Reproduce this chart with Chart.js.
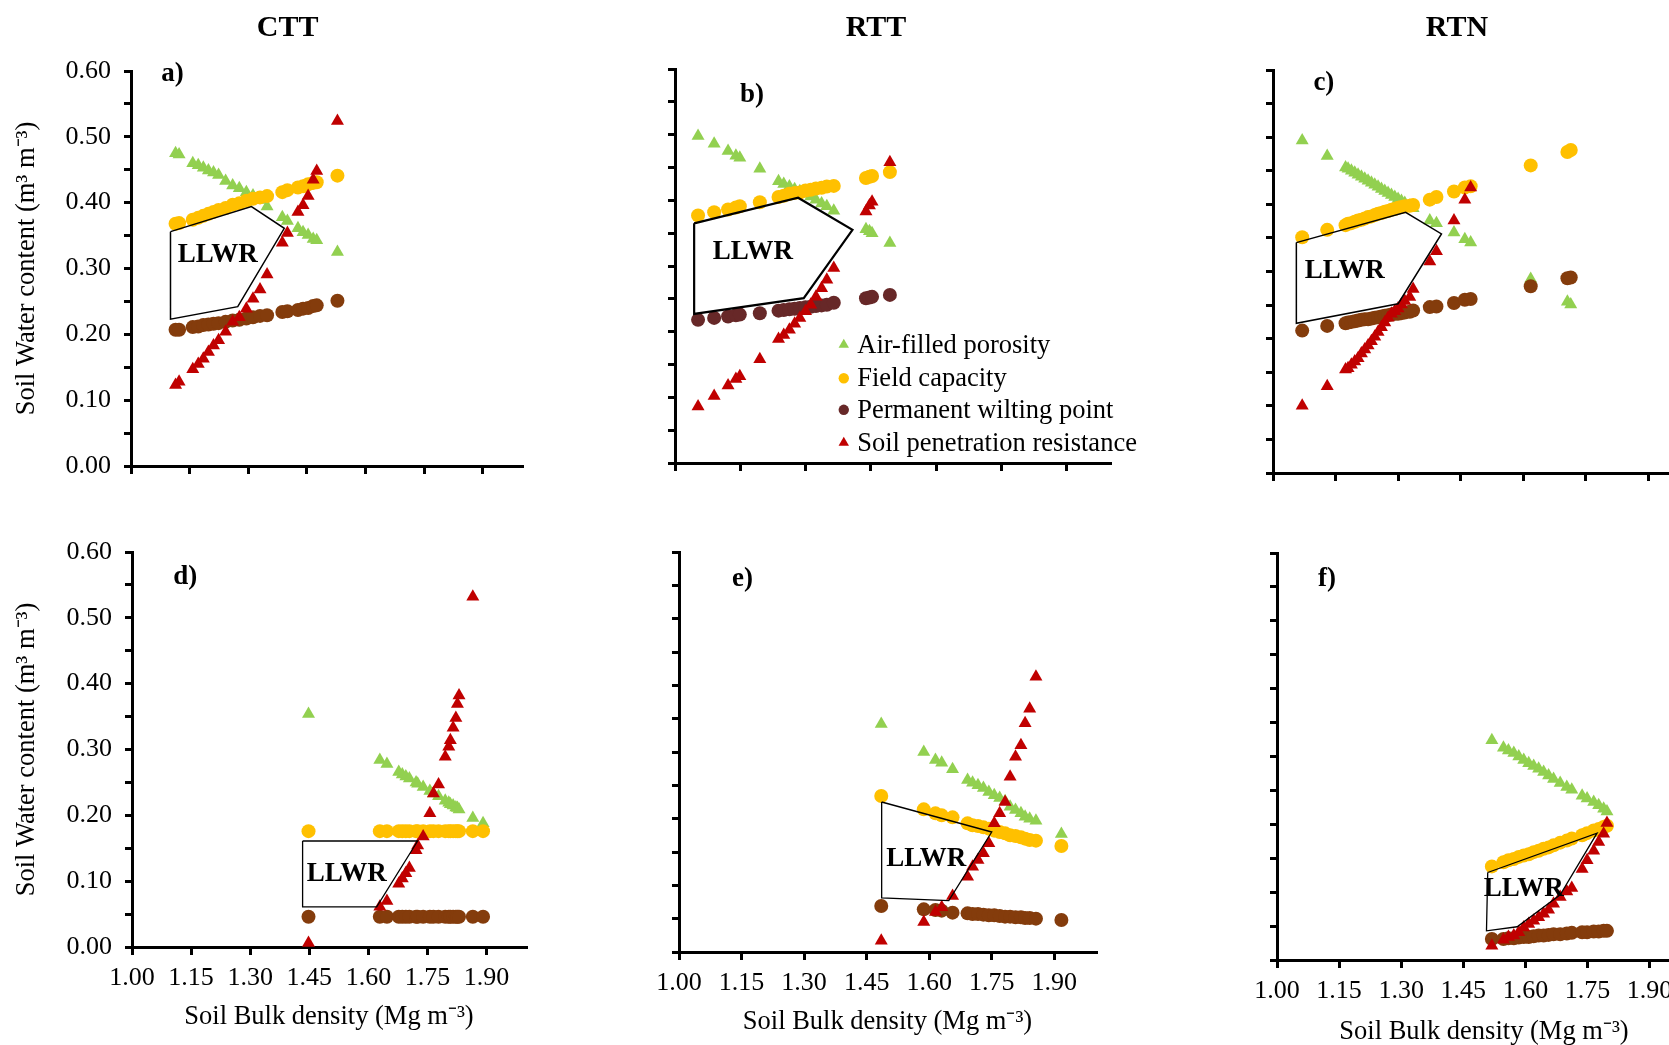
<!DOCTYPE html>
<html><head><meta charset="utf-8">
<script src="https://cdn.jsdelivr.net/npm/chart.js@4.4.1/dist/chart.umd.min.js"></script>
<style>
html,body{margin:0;padding:0;background:#fff;overflow:hidden;width:1669px;height:1045px;position:relative;}
canvas{position:absolute;}
.ttl{position:absolute;font:bold 30px "Liberation Serif";line-height:30px;transform:translate(-50%,-50%);white-space:nowrap;color:#000;}
</style></head><body>
<script>
// ---------- data ----------
const columnTitles = ['CTT','RTT','RTN'];
const panelLabels = ['a)','b)','c)','d)','e)','f)'];
const seriesNames = ['Air-filled porosity','Field capacity','Permanent wilting point','Soil penetration resistance'];
const xTickValues = [1.00,1.15,1.30,1.45,1.60,1.75,1.90];
const yTickValues = [0,0.05,0.10,0.15,0.20,0.25,0.30,0.35,0.40,0.45,0.50,0.55,0.60];
const yTitle = 'Soil Water content (m³ m⁻³)';
const xTitle = 'Soil Bulk density (Mg m⁻³)';
const llwrText = 'LLWR';

// a) CTT upper
const bdA  = [1.114,1.123,1.158,1.172,1.185,1.198,1.211,1.224,1.242,1.260,1.277,1.295,1.312,1.330,1.348,1.387,1.400,1.427,1.440,1.453,1.466,1.475,1.528];
const afpA = [0.475,0.473,0.460,0.457,0.453,0.449,0.446,0.442,0.433,0.426,0.422,0.416,0.411,0.404,0.394,0.378,0.372,0.361,0.355,0.351,0.345,0.343,0.325];
const fcA  = [0.368,0.369,0.374,0.377,0.380,0.383,0.386,0.389,0.392,0.397,0.399,0.403,0.406,0.408,0.410,0.416,0.419,0.423,0.425,0.428,0.430,0.431,0.441];
const pwpA = [0.207,0.207,0.211,0.212,0.214,0.215,0.216,0.217,0.219,0.221,0.222,0.224,0.226,0.228,0.229,0.234,0.235,0.237,0.239,0.240,0.243,0.244,0.251];
const sprA = [0.123,0.128,0.147,0.155,0.163,0.173,0.183,0.191,0.204,0.219,0.226,0.239,0.254,0.268,0.291,0.339,0.354,0.386,0.396,0.410,0.435,0.448,0.524];
const llwrAx = [1.101,1.308,1.392,1.273,1.101];
const llwrAy = [0.356,0.394,0.361,0.242,0.223];

// b) RTT upper
const bdB  = [1.053,1.090,1.122,1.140,1.149,1.195,1.238,1.250,1.263,1.275,1.287,1.300,1.312,1.324,1.337,1.349,1.365,1.439,1.447,1.453,1.494];
const afpB = [0.498,0.486,0.475,0.468,0.465,0.448,0.429,0.425,0.421,0.417,0.414,0.410,0.406,0.401,0.395,0.391,0.384,0.356,0.353,0.350,0.335];
const fcB  = [0.377,0.382,0.386,0.389,0.391,0.397,0.405,0.407,0.410,0.411,0.412,0.415,0.416,0.418,0.419,0.421,0.422,0.434,0.436,0.437,0.443];
const pwpB = [0.218,0.221,0.223,0.225,0.226,0.228,0.232,0.233,0.234,0.235,0.236,0.237,0.238,0.239,0.240,0.241,0.244,0.251,0.252,0.253,0.256];
const sprB = [0.086,0.102,0.118,0.128,0.132,0.158,0.189,0.195,0.203,0.212,0.221,0.231,0.241,0.253,0.266,0.279,0.297,0.383,0.392,0.398,0.458];
const llwrBx = [1.044,1.283,1.408,1.296,1.044];
const llwrBy = [0.365,0.404,0.355,0.251,0.227];

// c) RTN upper
const bdC  = [1.070,1.130,1.174,1.180,1.188,1.196,1.204,1.212,1.220,1.228,1.236,1.244,1.252,1.260,1.268,1.276,1.284,1.292,1.300,1.308,1.316,1.328,1.336,1.376,1.392,1.434,1.460,1.474,1.618,1.706,1.714];
const afpC = [0.495,0.472,0.455,0.453,0.450,0.447,0.444,0.441,0.438,0.435,0.432,0.429,0.426,0.423,0.420,0.417,0.414,0.411,0.408,0.405,0.402,0.398,0.394,0.376,0.372,0.358,0.348,0.343,0.289,0.255,0.251];
const fcC  = [0.351,0.362,0.369,0.371,0.372,0.374,0.376,0.377,0.379,0.381,0.382,0.384,0.386,0.387,0.389,0.390,0.392,0.393,0.395,0.396,0.397,0.398,0.399,0.407,0.411,0.419,0.425,0.427,0.458,0.478,0.481];
const pwpC = [0.212,0.219,0.223,0.224,0.225,0.226,0.227,0.228,0.229,0.229,0.230,0.231,0.232,0.233,0.234,0.235,0.236,0.237,0.237,0.238,0.239,0.240,0.242,0.247,0.248,0.253,0.258,0.259,0.278,0.290,0.291];
const sprC = [0.100,0.129,0.154,0.156,0.161,0.166,0.171,0.178,0.184,0.190,0.196,0.203,0.210,0.217,0.224,0.231,0.237,0.241,0.245,0.251,0.256,0.262,0.274,0.315,0.330,0.376,0.407,0.425,null,null,null];
const llwrCx = [1.056,1.318,1.404,1.300,1.056];
const llwrCy = [0.343,0.388,0.356,0.252,0.223];

// d) CTT lower
const bdD  = [1.448,1.629,1.647,1.677,1.686,1.695,1.704,1.721,1.725,1.739,1.756,1.765,1.778,1.795,1.804,1.808,1.815,1.822,1.826,1.830,1.865,1.891];
const afpD = [0.354,0.284,0.278,0.266,0.262,0.259,0.256,0.250,0.248,0.243,0.237,0.233,0.229,0.222,0.219,0.217,0.215,0.212,0.211,0.209,0.196,0.188];
const fcD  = [0.176,0.176,0.176,0.176,0.176,0.176,0.176,0.176,0.176,0.176,0.176,0.176,0.176,0.176,0.176,0.176,0.176,0.176,0.176,0.176,0.176,0.176];
const pwpD = [0.046,0.046,0.046,0.046,0.046,0.046,0.046,0.046,0.046,0.046,0.046,0.046,0.046,0.046,0.046,0.046,0.046,0.046,0.046,0.046,0.046,0.046];
const sprD = [0.006,0.061,0.070,0.096,0.104,0.112,0.120,0.147,0.154,0.168,0.203,0.233,0.247,0.289,0.304,0.314,0.333,0.348,0.369,0.382,0.532,null];
const llwrDx = [1.433,1.725,1.621,1.433];
const llwrDy = [0.161,0.161,0.061,0.061];

// e) RTT lower
const bdE  = [1.485,1.587,1.615,1.630,1.656,1.692,1.704,1.717,1.730,1.743,1.756,1.769,1.782,1.794,1.807,1.820,1.830,1.841,1.856,1.917];
const afpE = [0.342,0.300,0.288,0.284,0.274,0.258,0.254,0.250,0.246,0.240,0.235,0.231,0.226,0.218,0.213,0.208,0.203,0.200,0.197,0.177];
const fcE  = [0.234,0.214,0.208,0.205,0.202,0.193,0.190,0.189,0.187,0.185,0.182,0.180,0.178,0.175,0.174,0.172,0.170,0.168,0.167,0.159];
const pwpE = [0.069,0.064,0.063,0.062,0.059,0.058,0.057,0.057,0.056,0.055,0.055,0.054,0.053,0.053,0.052,0.052,0.051,0.051,0.050,0.048];
const sprE = [0.017,0.045,0.060,0.067,0.084,0.113,0.128,0.138,0.148,0.163,0.193,0.208,0.225,0.263,0.293,0.310,0.343,0.365,0.413,null];
const llwrEx = [1.486,1.750,1.647,1.486];
const llwrEy = [0.225,0.180,0.077,0.081];

// f) RTN lower
const bdF  = [1.519,1.547,1.559,1.572,1.584,1.596,1.608,1.620,1.632,1.644,1.656,1.668,1.684,1.700,1.712,1.737,1.749,1.765,1.777,1.789,1.797];
const afpF = [0.324,0.313,0.309,0.305,0.300,0.295,0.290,0.286,0.282,0.277,0.272,0.267,0.261,0.255,0.251,0.242,0.238,0.233,0.228,0.223,0.219];
const fcF  = [0.138,0.144,0.147,0.149,0.152,0.154,0.156,0.159,0.161,0.164,0.166,0.169,0.173,0.176,0.179,0.184,0.187,0.191,0.193,0.196,0.198];
const pwpF = [0.031,0.031,0.032,0.032,0.033,0.034,0.034,0.035,0.036,0.036,0.037,0.038,0.038,0.039,0.040,0.041,0.041,0.042,0.042,0.043,0.043];
const sprF = [0.021,0.030,0.034,0.036,0.041,0.048,0.053,0.058,0.063,0.068,0.074,0.083,0.093,0.101,0.106,0.134,0.147,0.161,0.174,0.186,0.202];
const llwrFx = [1.509,1.773,1.684,1.580,1.506];
const llwrFy = [0.129,0.187,0.096,0.049,0.043];

// annotation anchors (data units)
const llwrTextPos = [[1.222,0.320],[1.179,0.321],[1.172,0.300],[1.545,0.111],[1.593,0.140],[1.596,0.105]];
const labelPos = [[1.106,0.596],[1.177,0.561],[1.122,0.580],[1.135,0.562],[1.152,0.560],[1.121,0.562]];
const legendX = [1.388,1.419];
const legendY = [0.180,0.129,0.081,0.031];

// ---------- styling ----------
const FONT = '"Liberation Serif", "Times New Roman", serif';
const GREEN = '#92D050', YELLOW = '#FFC000', BROWN = '#843C0C', MAROON = '#672828', RED = '#C00000';

const panels = [
  {bd:bdA, afp:afpA, fc:fcA, pwp:pwpA, spr:sprA, px:llwrAx, py:llwrAy, pwpColor:BROWN,
   L:131, T:70.7, B:465.7, R:522, yLabels:true, xLabels:false, lw:1.5, padR:10},
  {bd:bdB, afp:afpB, fc:fcB, pwp:pwpB, spr:sprB, px:llwrBx, py:llwrBy, pwpColor:MAROON,
   L:675, T:69.3, B:463.3, R:1109.5, yLabels:false, xLabels:false, legend:true, lw:2.2, padR:60},
  {bd:bdC, afp:afpC, fc:fcC, pwp:pwpC, spr:sprC, px:llwrCx, py:llwrCy, pwpColor:BROWN,
   L:1273.3, T:70, B:473.3, R:1690, yLabels:false, xLabels:false, lw:1.5, padR:10},
  {bd:bdD, afp:afpD, fc:fcD, pwp:pwpD, spr:sprD, px:llwrDx, py:llwrDy, pwpColor:BROWN,
   L:132, T:551.7, B:946.7, R:526, yLabels:true, xLabels:true, lw:1.3, padR:10, xH:86},
  {bd:bdE, afp:afpE, fc:fcE, pwp:pwpE, spr:sprE, px:llwrEx, py:llwrEy, pwpColor:BROWN,
   L:679, T:551.7, B:951.7, R:1096, yLabels:false, xLabels:true, lw:1.3, padR:10, xH:86},
  {bd:bdF, afp:afpF, fc:fcF, pwp:pwpF, spr:sprF, px:llwrFx, py:llwrFy, pwpColor:BROWN,
   L:1276.7, T:552.7, B:959.3, R:1690.7, yLabels:false, xLabels:true, lw:1.3, padR:10, xH:88}
];
const titlePos = [[287.7,25.5],[876,25.5],[1457,25.5]];

function pairs(xs, ys){ const out=[]; xs.forEach((x,i)=>{ if(ys[i]!==null && ys[i]!==undefined) out.push({x:x,y:ys[i]}); }); return out; }

const extrasPlugin = {
  id:'extras',
  afterDatasetsDraw(chart, args, o){
    const ctx = chart.ctx, xs = chart.scales.x, ys = chart.scales.y;
    ctx.save();
    ctx.fillStyle = '#000';
    ctx.textBaseline = 'middle';
    ctx.font = 'bold 27px ' + FONT; ctx.textAlign = 'center';
    ctx.fillText(llwrText, xs.getPixelForValue(o.llwr[0]), ys.getPixelForValue(o.llwr[1]));
    ctx.font = 'bold 27px ' + FONT;
    ctx.fillText(o.label, xs.getPixelForValue(o.labelAt[0]), ys.getPixelForValue(o.labelAt[1]));
    if (o.legend){
      const styles = [['triangle',GREEN,6],['circle',YELLOW,5.2],['circle',MAROON,5.2],['triangle',RED,6]];
      ctx.font = '26.5px ' + FONT; ctx.textAlign = 'left';
      seriesNames.forEach((nm,i)=>{
        const yy = ys.getPixelForValue(legendY[i]);
        ctx.fillStyle = styles[i][1];
        Chart.helpers.drawPoint(ctx, {pointStyle:styles[i][0], radius:styles[i][2], borderWidth:0, rotation:0}, xs.getPixelForValue(legendX[0]), yy);
        ctx.fillStyle = '#000';
        ctx.fillText(nm, xs.getPixelForValue(legendX[1]), yy+1);
      });
    }
    ctx.restore();
  }
};

const padT = 34;
panels.forEach((p, idx)=>{
  const yW = p.yLabels ? (p.L - 11) : 40;
  const xH = p.xLabels ? p.xH : 34;
  const cv = document.createElement('canvas');
  const left = p.L - yW, top = p.T - padT;
  const w = Math.round((p.R - p.L) + yW + p.padR), h = Math.round((p.B - p.T) + padT + xH);
  cv.width = w; cv.height = h;
  cv.style.left = left + 'px'; cv.style.top = top + 'px';
  cv.style.width = w + 'px'; cv.style.height = h + 'px';
  document.body.appendChild(cv);

  const closedX = p.px.concat([p.px[0]]), closedY = p.py.concat([p.py[0]]);
  const ptBase = {borderWidth:0, clip:false};
  new Chart(cv.getContext('2d'), {
    type:'scatter',
    data:{ datasets:[
      {label:'LLWR', type:'line', data:pairs(closedX, closedY), showLine:true, borderColor:'#000', borderWidth:p.lw, pointRadius:0, fill:false, tension:0, order:0, clip:false},
      Object.assign({label:seriesNames[3], data:pairs(p.bd,p.spr), pointStyle:'triangle', pointRadius:7.5, backgroundColor:RED, order:1}, ptBase),
      Object.assign({label:seriesNames[2], data:pairs(p.bd,p.pwp), pointStyle:'circle', pointRadius:7, backgroundColor:p.pwpColor, order:2}, ptBase),
      Object.assign({label:seriesNames[1], data:pairs(p.bd,p.fc), pointStyle:'circle', pointRadius:7, backgroundColor:YELLOW, order:3}, ptBase),
      Object.assign({label:seriesNames[0], data:pairs(p.bd,p.afp), pointStyle:'triangle', pointRadius:7.5, backgroundColor:GREEN, order:4}, ptBase)
    ]},
    options:{
      responsive:false, animation:false, devicePixelRatio:1,
      layout:{padding:{left:0, top:padT, right:p.padR, bottom:0}},
      plugins:{ legend:{display:false}, tooltip:{enabled:false},
        extras:{ llwr:llwrTextPos[idx], label:panelLabels[idx], labelAt:labelPos[idx], legend:!!p.legend } },
      elements:{point:{hoverRadius:0}},
      scales:{
        x:{ type:'linear', min:1.0, max:2.0,
          afterBuildTicks:s=>{ s.ticks = xTickValues.map(v=>({value:v})); },
          afterFit:s=>{ s.height = xH; },
          ticks:{ padding:8, color:'#000', font:{family:FONT, size:26}, maxRotation:0, autoSkip:false,
            callback:v=> p.xLabels ? Number(v).toFixed(2) : '' },
          grid:{ drawOnChartArea:false, drawTicks:true, tickLength:8, color:'#000', lineWidth:3 },
          border:{ display:true, color:'#000', width:3 },
          title:{ display:p.xLabels, text:xTitle, color:'#000', font:{family:FONT, size:26.5, lineHeight:1.2}, padding:0 }
        },
        y:{ type:'linear', min:0, max:0.6,
          afterBuildTicks:s=>{ s.ticks = yTickValues.map(v=>({value:v})); },
          afterFit:s=>{ s.width = yW; },
          ticks:{ padding:13, color:'#000', font:{family:FONT, size:26}, autoSkip:false,
            callback:v=> (p.yLabels && Math.round(v*100)%10===0) ? Number(v).toFixed(2) : '' },
          grid:{ drawOnChartArea:false, drawTicks:true, tickLength:7, color:'#000', lineWidth:3 },
          border:{ display:true, color:'#000', width:3 },
          title:{ display:p.yLabels, text:yTitle, color:'#000', font:{family:FONT, size:26.5, lineHeight:1.2}, padding:0 }
        }
      }
    },
    plugins:[extrasPlugin]
  });
});

columnTitles.forEach((t,i)=>{
  const d = document.createElement('div');
  d.className = 'ttl'; d.textContent = t;
  d.style.left = titlePos[i][0] + 'px'; d.style.top = titlePos[i][1] + 'px';
  document.body.appendChild(d);
});
</script>
</body></html>
